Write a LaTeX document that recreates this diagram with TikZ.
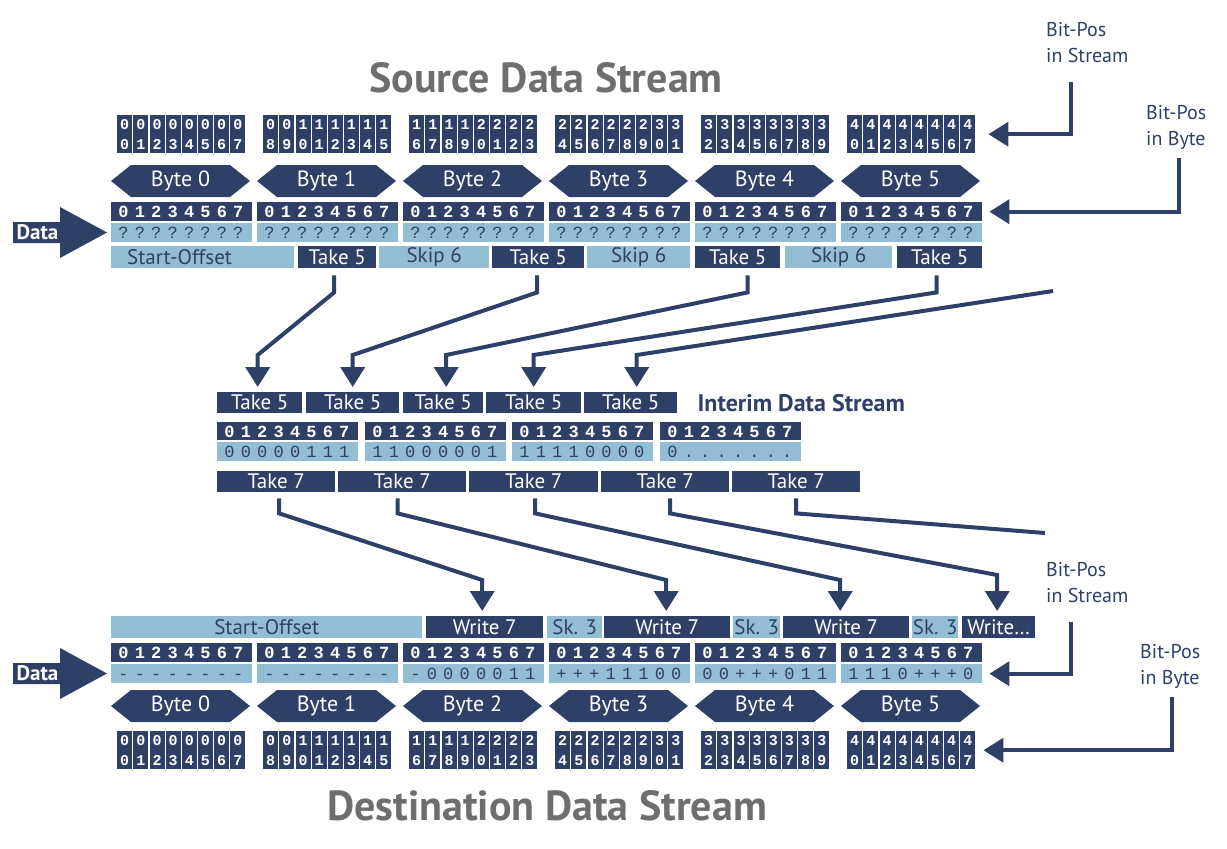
\documentclass[tikz,border=0pt]{standalone}
\usepackage{fontspec}
\setmainfont{PT Sans}
\newfontfamily\monofont{Liberation Mono}
\usetikzlibrary{calc,positioning,arrows.meta}
\definecolor{navy}{HTML}{2F4068}
\definecolor{paleblue}{HTML}{93BDD3}
\definecolor{titlegray}{HTML}{6D6E70}

\tikzset{
  bar/.style={inner sep=0pt, anchor=north west, minimum height=22pt, font=\fontsize{21}{22}\selectfont},
  darkbar/.style={bar, fill=navy, text=white},
  palebar/.style={bar, fill=paleblue, text=navy},
  cell/.style={fill=navy, text=white, inner sep=0pt, anchor=north west, minimum width=15pt, minimum height=38pt, align=center, font=\monofont\bfseries\fontsize{15}{20}\selectfont},
  idx/.style={text=white, inner sep=0pt, anchor=base, font=\monofont\bfseries\fontsize{17}{17}\selectfont},
  val/.style={text=navy, inner sep=0pt, anchor=base, font=\monofont\fontsize{17}{17}\selectfont},
  flow/.style={draw=navy, line width=4pt, -{Triangle[length=20pt,width=24pt]}},
  sidenote/.style={text=navy, inner sep=0pt, anchor=north west, align=left, font=\fontsize{20}{26}\selectfont},
  streamtitle/.style={text=titlegray, inner sep=0pt, anchor=base, font=\bfseries\fontsize{42}{42}\selectfont},
  bytelabel/.style={text=white, inner sep=0pt, font=\fontsize{22}{22}\selectfont},
}

\begin{document}
\begin{tikzpicture}[x=1pt,y=-1pt]
  \useasboundingbox (0,0) rectangle (1227,849);

  % titles
  \node[streamtitle] (srctitle) at (546,92) {Source Data Stream};
  \node[streamtitle] (dsttitle) at (547,820) {Destination Data Stream};

  % bit positions in stream
  \foreach \k in {0,...,5}{
    \foreach \j in {0,...,7}{
      \pgfmathtruncatemacro\n{8*\k+\j}
      \pgfmathtruncatemacro\tens{int(\n/10)}
      \pgfmathtruncatemacro\ones{mod(\n,10)}
      \node[cell] (spos\k\j) at (117+146*\k+16.15*\j,115) {\tens\\\ones};
      \node[cell] (dpos\k\j) at (117+146*\k+16.15*\j,731) {\tens\\\ones};
    }
  }

  % bytes
  \foreach \k in {0,...,5}{
    \foreach \y/\p in {165/s,690/d}{
      \fill[navy] (111+146*\k,\y+16) -- ++(20,-16) -- ++(99,0) -- ++(20,16) -- ++(-20,16) -- ++(-99,0) -- cycle;
      \node[bytelabel] (byte\p\k) at (180.5+146*\k,\y+16) {Byte \k};
    }
  }

  % source bits
  \foreach \k in {0,...,5}{
    \node[darkbar, minimum width=141pt, minimum height=19pt] (sidx\k) at (111+146*\k,202) {};
    \node[palebar, minimum width=141pt, minimum height=19pt] (sval\k) at (111+146*\k,223) {};
    \foreach \j in {0,...,7}{
      \node[idx] (sidx\k-\j) at (123.5+146*\k+16.4*\j,217.5) {\j};
      \node[val] (sval\k-\j) at (123.5+146*\k+16.4*\j,238.5) {?};
    }
  }

  \foreach \x/\w/\s/\t [count=\i] in {111/183/palebar/{\makebox[151pt][l]{Start-Offset}}, 298/78/darkbar/Take 5, 379/110/palebar/Skip 6, 492/92/darkbar/Take 5, 587/103/palebar/Skip 6, 695/85/darkbar/Take 5, 785/107/palebar/Skip 6, 897/85/darkbar/Take 5}
    \node[\s, minimum width=\w pt] (src\i) at (\x,246) {\t};

  % interim stream
  \foreach \x/\w [count=\i] in {217/85, 306/93, 403/80, 486/95, 584/93}
    \node[darkbar, minimum width=\w pt, minimum height=21pt] (itk\i) at (\x,392) {Take 5};
  \node[right=20pt of itk5, inner sep=0pt, text=navy, font=\bfseries\fontsize{24}{24}\selectfont] (inttitle) {Interim Data Stream};

  \foreach \k/\x/\bits in {0/217/{0,0,0,0,0,1,1,1}, 1/365/{1,1,0,0,0,0,0,1}, 2/512/{1,1,1,1,0,0,0,0}, 3/660/{0,.,.,.,.,.,.,.}}{
    \node[darkbar, minimum width=141pt, minimum height=18pt] (iidx\k) at (\x,422) {};
    \node[palebar, minimum width=141pt, minimum height=19pt] (ival\k) at (\x,442) {};
    \foreach \c [count=\j from 0] in \bits {
      \node[idx] (iidx\k-\j) at (\x+12.5+16.4*\j,437) {\j};
      \node[val] (ival\k-\j) at (\x+12.5+16.4*\j,457.5) {\c};
    }
  }

  \foreach \x/\w [count=\i] in {217/118, 338/128, 469/129, 601/128, 732/128}
    \node[darkbar, minimum width=\w pt, minimum height=21pt] (itc\i) at (\x,471) {Take 7};

  % destination stream
  \foreach \x/\w/\s/\t [count=\i] in {111/311/palebar/Start-Offset, 426/117/darkbar/Write 7, 547/55/palebar/Sk. 3, 604/126/darkbar/Write 7, 733/47/palebar/Sk. 3, 783/126/darkbar/Write 7, 912/46/palebar/Sk. 3, 962/73/darkbar/Write\ldots}
    \node[\s, minimum width=\w pt] (dst\i) at (\x,616) {\t};

  \foreach \k/\bits in {0/{-,-,-,-,-,-,-,-}, 1/{-,-,-,-,-,-,-,-}, 2/{-,0,0,0,0,0,1,1}, 3/{+,+,+,1,1,1,0,0}, 4/{0,0,+,+,+,0,1,1}, 5/{1,1,1,0,+,+,+,0}}{
    \node[darkbar, minimum width=141pt, minimum height=19pt] (didx\k) at (111+146*\k,643) {};
    \node[palebar, minimum width=141pt, minimum height=19pt] (dval\k) at (111+146*\k,664) {};
    \foreach \c [count=\j from 0] in \bits {
      \node[idx] (didx\k-\j) at (123.5+146*\k+16.4*\j,658.5) {\j};
      \node[val] (dval\k-\j) at (123.5+146*\k+16.4*\j,679.5) {\c};
    }
  }

  % data arrows
  \foreach \y/\p in {232.5/src, 673.5/dst}{
    \fill[navy] (13,\y-10.5) -- (60,\y-10.5) -- (60,\y-25.5) -- (107,\y) -- (60,\y+25.5) -- (60,\y+10.5) -- (13,\y+10.5) -- cycle;
    \node[inner sep=0pt, text=white, font=\bfseries\fontsize{21}{21}\selectfont] (data\p) at (37.5,\y) {Data};
  }

  % take 5 -> interim
  \foreach \a/\sx/\b/\tx in {src2/-3/itk1/-2, src4/-1/itk2/0, src6/10/itk3/3, src8/-3/itk4/0}
    \draw[flow] ($(\a.south)+(\sx,7)$) -- ++(0,17) -- ($(\b.north)+(\tx,-37)$) -- ($(\b.north)+(\tx,-5)$);
  \coordinate (tin) at (1053,291);
  \draw[flow] (tin) -- ($(itk5.north)+(6,-37)$) -- ($(itk5.north)+(6,-5)$);

  % take 7 -> destination
  \foreach \a/\sx/\b/\tx/\c in {itc1/3/dst2/-2.5/36, itc2/-4.5/dst4/-1/36, itc3/1.5/dst6/-6/36, itc4/5/dst8/-1.5/41}
    \draw[flow] ($(\a.south)+(\sx,6)$) -- ++(0,15) -- ($(\b.north)+(\tx,-\c)$) -- ($(\b.north)+(\tx,-5)$);
  \coordinate (tout) at (1045,533);
  \draw[navy, line width=4pt] ($(itc5.south)+(0,6)$) -- ++(0,15) -- (tout);

  % bit position notes
  \node[sidenote] (bpss) at (1046,22) {Bit-Pos\\in Stream};
  \coordinate (bpss-foot) at (1071,82);
  \draw[flow] (bpss-foot) |- ($(spos57.east)+(13,0)$);
  \node[sidenote] (bpbs) at (1146,105) {Bit-Pos\\in Byte};
  \coordinate (bpbs-foot) at (1179,158);
  \draw[flow] (bpbs-foot) |- ($(sidx5.east)+(7,0)$);

  \node[sidenote] (bpsd) at (1046,562) {Bit-Pos\\in Stream};
  \coordinate (bpsd-foot) at (1071,622);
  \draw[flow] (bpsd-foot) |- ($(dval5.east)+(7,0)$);
  \node[sidenote] (bpbd) at (1140,644) {Bit-Pos\\in Byte};
  \coordinate (bpbd-foot) at (1172,697);
  \draw[flow] (bpbd-foot) |- ($(dpos57.east)+(8,0)$);

\end{tikzpicture}
\end{document}
